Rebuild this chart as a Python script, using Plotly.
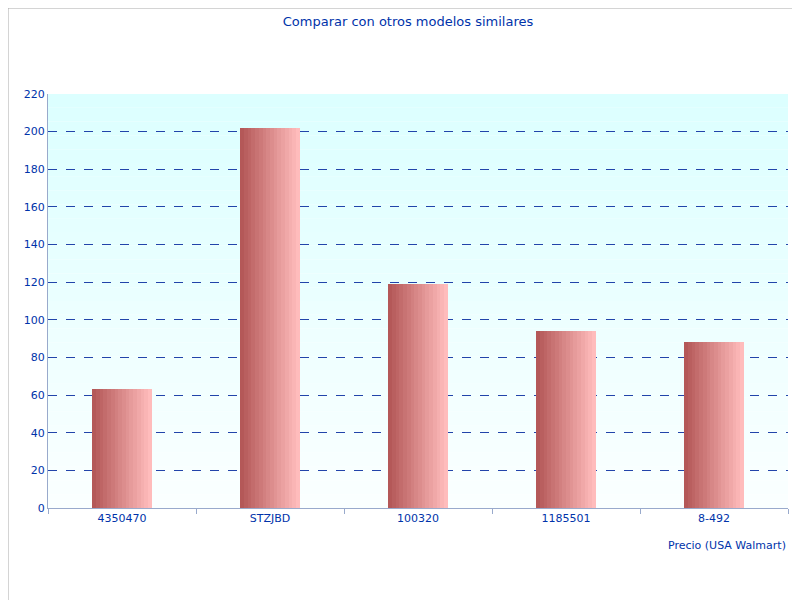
import plotly.graph_objects as go

categories = ["4350470", "STZJBD", "100320", "1185501", "8-492"]
values = [63, 202, 119, 94, 88]
y_ticks = list(range(0, 221, 20))

def lerp(c1, c2, t):
    return "rgb(%d,%d,%d)" % tuple(round(a + (b - a) * t) for a, b in zip(c1, c2))

fig = go.Figure()
n = 16
bw = 0.405
left = (180, 88, 88)
right = (255, 188, 188)
for i in range(n):
    fig.add_trace(go.Bar(
        x=categories, y=values, width=bw / n + 0.002, offset=-bw / 2 + i * bw / n,
        marker=dict(color=lerp(left, right, i / (n - 1)), line=dict(width=0)),
        hoverinfo="y", showlegend=False))

shapes = []
m = 30
top = (220, 255, 255)
bot = (250, 255, 255)
for i in range(m):
    shapes.append(dict(type="rect", xref="x domain", yref="y domain", x0=0, x1=1,
                       y0=i / m, y1=(i + 1) / m, fillcolor=lerp(bot, top, i / (m - 1)),
                       line=dict(width=0), layer="below"))
shapes.append(dict(type="rect", xref="paper", yref="paper", x0=-40/740, x1=1+20/740,
                   y0=-100/414, y1=1+86/414, line=dict(color="#aaaaaa", width=1)))

fig.update_layout(
    width=800, height=600, margin=dict(l=40, r=20, t=86, b=100),
    paper_bgcolor="white", plot_bgcolor="white", barmode="overlay", bargap=0,
    font=dict(family="DejaVu Sans", size=11, color="#0033aa"),
    title=dict(text="Comparar con otros modelos similares", x=0.5, y=0.985,
               yanchor="top", font=dict(size=13, color="#0033aa")),
    shapes=shapes,
    xaxis=dict(tickson="boundaries", ticks="outside", ticklen=5, tickcolor="#99aacc",
               showline=True, linecolor="#99aacc", showgrid=False),
    yaxis=dict(range=[0, 220], tickvals=y_ticks, showgrid=True, gridcolor="#2244aa",
               griddash="dash", gridwidth=1, zeroline=False, showline=True,
               linecolor="#99aacc", ticks="", ticklen=5),
    annotations=[dict(text="Precio (USA Walmart)", xref="paper", yref="paper", x=1, y=-0.07,
                      xanchor="right", yanchor="top", showarrow=False,
                      font=dict(size=11, color="#0033aa"))],
)
fig.write_html("out.html")
